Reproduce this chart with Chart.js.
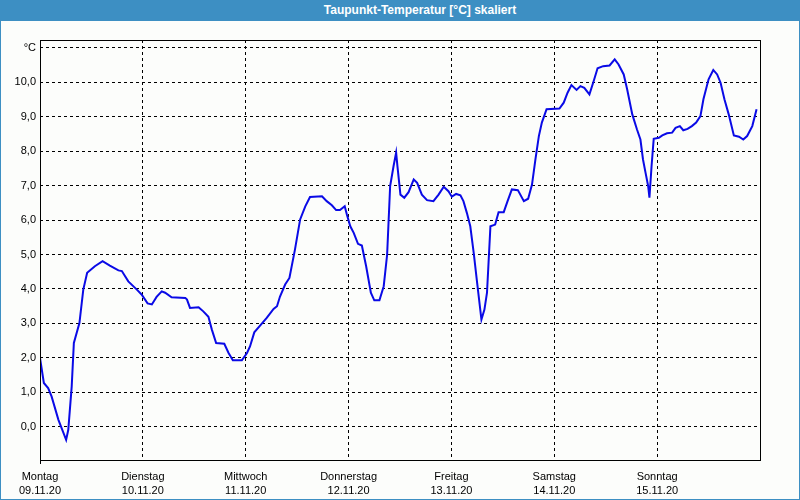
<!DOCTYPE html>
<html>
<head>
<meta charset="utf-8">
<script src="https://cdn.jsdelivr.net/npm/chart.js@4/dist/chart.umd.min.js"></script>
<style>
  html, body { margin: 0; padding: 0; background: #fcfdfb; }
  #wrap { position: relative; width: 800px; height: 500px; background: #fcfdfb; overflow: hidden; }
  #titlebar { position: absolute; left: 0; top: 0; width: 800px; height: 21px; background: #3d8fc3;
    color: #fff; font: bold 12px "Liberation Sans", Arial, sans-serif; line-height: 21px; text-align: center;
    box-sizing: border-box; padding-left: 40px; }
  #border { position: absolute; left: 0; top: 0; width: 800px; height: 500px; box-sizing: border-box;
    border: 1px solid #3d8fc3; border-top: none; pointer-events: none; }
  canvas { position: absolute; left: 0; top: 0; }
</style>
</head>
<body>
<div id="wrap">
  <canvas id="c" width="800" height="500"></canvas>
  <div id="titlebar">Taupunkt-Temperatur [°C] skaliert</div>
  <div id="border"></div>
</div>
<script>
// ---- data (hours since Mon 09.11.20 00:00, dew point in °C) ----
const dayNames = ["Montag", "Dienstag", "Mittwoch", "Donnerstag", "Freitag", "Samstag", "Sonntag"];
const dayDates = ["09.11.20", "10.11.20", "11.11.20", "12.11.20", "13.11.20", "14.11.20", "15.11.20"];
const yTickValues = [0, 1, 2, 3, 4, 5, 6, 7, 8, 9, 10, 11];
const hours = [
  0, 0.9, 1.9, 2.7, 4.3, 6.1, 6.6, 7.4, 7.9, 9.2, 10.1, 11.0, 12.8, 14.6, 16.3, 18.3, 19.1, 20.6, 22.6, 23.7,
  25.1, 26.1, 27.2, 28.4, 29.2, 30.7, 33.9, 34.3, 35.0, 37.0, 38.1, 39.3, 40.1, 41.1, 43.0, 44.0, 45.0, 47.1,
  48.3, 49.0, 50.0, 51.4, 52.9, 54.5, 55.3, 56.0, 57.2, 58.2, 59.5, 60.7, 61.9, 63.0, 65.8, 66.9, 68.1, 69.1,
  70.0, 71.1, 71.6, 72.4, 73.2, 74.2, 75.1, 76.1, 77.2, 78.0, 79.2, 80.2, 81.0, 81.7, 82.5, 83.1, 83.4, 84.1,
  85.0, 86.0, 87.2, 88.0, 89.1, 90.3, 91.8, 93.0, 94.2, 95.3, 96.1, 97.1, 98.1, 98.8, 99.6, 100.4, 101.2,
  102.0, 103.0, 103.7, 104.3, 105.1, 106.2, 107.0, 108.2, 109.1, 110.1, 111.5, 112.9, 113.9, 114.8, 115.6,
  116.4, 117.1, 118.2, 121.2, 122.2, 123.1, 124.0, 125.2, 126.1, 127.0, 128.2, 129.2, 130.1, 131.4, 132.9,
  134.1, 135.0, 136.2, 137.0, 138.2, 139.3, 140.1, 140.7, 141.3, 141.9, 142.2, 142.7, 143.2, 144.4, 145.2,
  146.3, 147.5, 148.3, 149.3, 150.1, 151.1, 152.1, 153.1, 154.1, 154.8, 156.0, 157.1, 158.0, 158.8, 159.7,
  160.7, 161.9, 163.1, 164.1, 165.0, 166.2, 167.2
];
const dewPoint = [
  2.0, 1.27, 1.12, 0.88, 0.2, -0.38, -0.09, 1.17, 2.43, 3.01, 3.98, 4.47, 4.66, 4.81, 4.68, 4.54, 4.52, 4.22, 3.98, 3.84,
  3.58, 3.55, 3.77, 3.93, 3.89, 3.76, 3.74, 3.69, 3.45, 3.47, 3.35, 3.19, 2.82, 2.43, 2.41, 2.14, 1.93, 1.93,
  2.14, 2.33, 2.74, 2.94, 3.16, 3.42, 3.50, 3.78, 4.13, 4.32, 5.15, 6.02, 6.40, 6.67, 6.69, 6.55, 6.43, 6.29,
  6.29, 6.40, 6.16, 5.82, 5.63, 5.31, 5.26, 4.66, 3.89, 3.67, 3.67, 4.08, 5.0, 6.99, 7.57, 7.96, 7.57, 6.74,
  6.65, 6.81, 7.18, 7.08, 6.74, 6.58, 6.55, 6.74, 6.97, 6.84, 6.68, 6.76, 6.72, 6.55, 6.21, 5.82, 5.05,
  4.18, 3.11, 3.40, 3.89, 5.82, 5.87, 6.23, 6.23, 6.55, 6.89, 6.87, 6.55, 6.62, 7.03, 7.76,
  8.44, 8.83, 9.22, 9.24, 9.41, 9.70, 9.92, 9.78, 9.89, 9.84, 9.65, 10.04, 10.41, 10.47, 10.49,
  10.67, 10.52, 10.23, 9.80, 9.07, 8.63, 8.34, 7.76, 7.37, 6.99, 6.65, 7.57, 8.36, 8.39, 8.46,
  8.52, 8.54, 8.68, 8.73, 8.61, 8.65, 8.73, 8.83, 9.02, 9.51, 10.09, 10.36, 10.23, 9.99, 9.51,
  9.07, 8.46, 8.42, 8.34, 8.44, 8.73, 9.22
];

Chart.defaults.font.family = '"Liberation Sans", Arial, sans-serif';
Chart.defaults.font.size = 11;
Chart.defaults.color = '#000';

const framePlugin = {
  id: 'frame',
  afterDraw(chart) {
    const { ctx, chartArea: a } = chart;
    ctx.save();
    ctx.strokeStyle = '#000';
    ctx.lineWidth = 1;
    ctx.setLineDash([]);
    ctx.strokeRect(Math.round(a.left) + 0.5, Math.round(a.top) + 0.5,
      Math.round(a.right - a.left), Math.round(a.bottom - a.top));
    ctx.beginPath();
    ctx.moveTo(Math.round(a.left) + 0.5, Math.round(a.bottom));
    ctx.lineTo(Math.round(a.left) + 0.5, Math.round(a.bottom) + 4);
    ctx.stroke();
    ctx.restore();
  }
};

new Chart(document.getElementById('c'), {
  type: 'line',
  data: {
    datasets: [{
      data: hours.map((h, i) => ({ x: h, y: dewPoint[i] })),
      borderColor: '#0a0ae6',
      borderWidth: 2,
      pointRadius: 0,
      tension: 0,
      fill: false
    }]
  },
  options: {
    responsive: false,
    animation: false,
    events: [],
    layout: { padding: { left: 0, top: 40, right: 40, bottom: 0 } },
    plugins: { legend: { display: false }, tooltip: { enabled: false }, title: { display: false } },
    scales: {
      x: {
        type: 'linear',
        min: 0,
        max: 168,
        afterBuildTicks(scale) { scale.ticks = dayNames.map((_, i) => ({ value: i * 24 })); },
        afterFit(scale) { scale.height = 40; },
        ticks: {
          autoSkip: false,
          maxRotation: 0,
          padding: 9,
          font: { size: 11, lineHeight: 1.36 },
          callback: (v, i) => [dayNames[i], dayDates[i]]
        },
        grid: { color: '#000', lineWidth: 1, drawTicks: false },
        border: { display: false, dash: [3, 3] }
      },
      y: {
        min: -0.967,
        max: 11.23,
        afterBuildTicks(scale) { scale.ticks = yTickValues.map(v => ({ value: v })); },
        afterFit(scale) { scale.width = 40; },
        ticks: {
          padding: 4,
          callback: (v) => v === 11 ? '°C' : v.toFixed(1).replace('.', ',')
        },
        grid: { color: '#000', lineWidth: 1, drawTicks: false },
        border: { display: false, dash: [3, 3] }
      }
    }
  },
  plugins: [framePlugin]
});
</script>
</body>
</html>
